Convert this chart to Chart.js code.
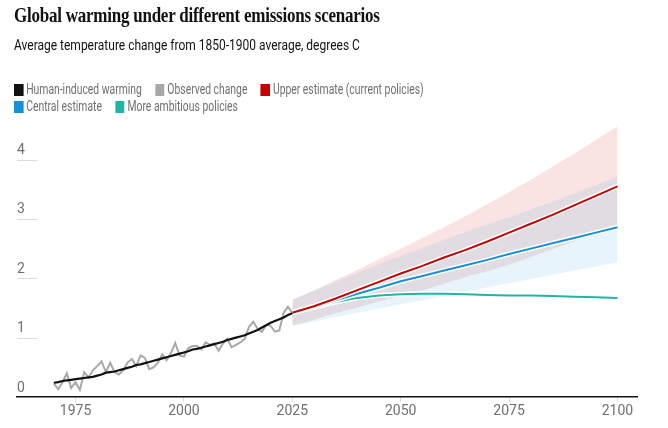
<!DOCTYPE html>
<html>
<head>
<meta charset="utf-8">
<script src="https://cdn.jsdelivr.net/npm/chart.js@4.4.1/dist/chart.umd.min.js"></script>
<style>
  html, body { margin: 0; padding: 0; background: #fff; }
  #wrap { position: relative; width: 668px; height: 428px; overflow: hidden; }
  #chart { position: absolute; left: 0; top: 0; }
  .title { position: absolute; left: 14px; top: 3px; font-family: "Liberation Serif", serif; font-weight: bold; font-size: 21px; letter-spacing: -0.3px; color: #121212; white-space: nowrap; transform: scaleX(0.81); transform-origin: left top; }
  .subtitle { position: absolute; left: 14px; top: 36px; font-family: Roboto, sans-serif; font-size: 15px; color: #121212; white-space: nowrap; transform: scaleX(0.8); transform-origin: left top; }
  #legend { position: absolute; left: 14px; top: 81px; width: 600px; display: flex; flex-wrap: wrap; font-family: Roboto, sans-serif; font-size: 14px; color: #707070; line-height: 17px; transform: scaleX(0.74); transform-origin: left top; }
  #legend .item { display: flex; align-items: center; margin-right: 18px; white-space: nowrap; }
  #legend .sw { width: 12.5px; height: 12px; margin-right: 4px; }
</style>
</head>
<body>
<div id="wrap">
  <canvas id="chart" width="668" height="428"></canvas>
  <div class="title">Global warming under different emissions scenarios</div>
  <div class="subtitle">Average temperature change from 1850-1900 average, degrees C</div>
  <div id="legend"></div>
</div>
<script>
// historical years 1970-2025
const histYears = [];
for (let y = 1970; y <= 2025; y++) histYears.push(y);

const humanInduced = [0.24, 0.25, 0.27, 0.28, 0.29, 0.30, 0.31, 0.32, 0.33, 0.34,
  0.36, 0.38, 0.41, 0.42, 0.43, 0.45, 0.47, 0.49, 0.51, 0.54,
  0.55, 0.57, 0.59, 0.61, 0.63, 0.65, 0.67, 0.69, 0.71, 0.73,
  0.75, 0.77, 0.80, 0.81, 0.83, 0.85, 0.87, 0.89, 0.91, 0.93,
  0.96, 0.98, 1.00, 1.02, 1.04, 1.07, 1.10, 1.13, 1.17, 1.21,
  1.25, 1.28, 1.31, 1.34, 1.38, 1.41];

const observed = [0.23, 0.13, 0.25, 0.40, 0.15, 0.25, 0.12, 0.42, 0.33, 0.45,
  0.52, 0.60, 0.42, 0.58, 0.42, 0.38, 0.45, 0.58, 0.64, 0.52,
  0.70, 0.66, 0.47, 0.50, 0.58, 0.72, 0.62, 0.74, 0.91, 0.70,
  0.68, 0.82, 0.86, 0.86, 0.80, 0.92, 0.88, 0.90, 0.78, 0.90,
  0.98, 0.84, 0.88, 0.92, 0.98, 1.18, 1.27, 1.15, 1.10, 1.22,
  1.20, 1.10, 1.12, 1.42, 1.52, 1.42];

// projections every 5 years 2025-2100
const projYears = [2025, 2030, 2035, 2040, 2045, 2050, 2055, 2060, 2065, 2070, 2075, 2080, 2085, 2090, 2095, 2100];
const upperEstimate = [1.42, 1.53, 1.66, 1.80, 1.94, 2.08, 2.21, 2.35, 2.48, 2.62, 2.77, 2.92, 3.07, 3.23, 3.39, 3.55];
const upperHigh = [1.64, 1.80, 1.97, 2.14, 2.32, 2.50, 2.68, 2.86, 3.05, 3.25, 3.45, 3.66, 3.88, 4.10, 4.33, 4.56];
const upperLow = [1.20, 1.30, 1.41, 1.51, 1.61, 1.70, 1.80, 1.91, 2.02, 2.12, 2.23, 2.36, 2.49, 2.62, 2.75, 2.87];
const centralEstimate = [1.42, 1.52, 1.63, 1.74, 1.84, 1.95, 2.04, 2.13, 2.22, 2.31, 2.41, 2.50, 2.59, 2.68, 2.77, 2.86];
const centralHigh = [1.64, 1.79, 1.94, 2.09, 2.24, 2.38, 2.51, 2.65, 2.78, 2.91, 3.03, 3.16, 3.29, 3.43, 3.57, 3.72];
const centralLow = [1.20, 1.27, 1.35, 1.42, 1.49, 1.56, 1.63, 1.70, 1.77, 1.85, 1.92, 1.99, 2.06, 2.13, 2.20, 2.27];
const ambitious = [1.42, 1.51, 1.60, 1.67, 1.71, 1.73, 1.74, 1.74, 1.73, 1.72, 1.71, 1.71, 1.70, 1.69, 1.68, 1.67];

const xTicks = [1975, 2000, 2025, 2050, 2075, 2100];
const yTicks = [0, 1, 2, 3, 4];

const legendItems = [
    { label: 'Human-induced warming', color: '#121212' },
    { label: 'Observed change', color: '#a8a8a8' },
    { label: 'Upper estimate (current policies)', color: '#c70000' },
    { label: 'Central estimate', color: '#1690d8' },
    { label: 'More ambitious policies', color: '#22b4a6' },
];

const pts = (xs, ys) => xs.map((x, i) => ({ x: x, y: ys[i] }));

function line(data, color, width, order) {
    return {
        data: data,
        borderColor: color,
        borderWidth: width,
        pointRadius: 0,
        fill: false,
        tension: 0,
        order: order,
    };
}

function band(data, color, target, order) {
    return {
        data: data,
        borderWidth: 0,
        pointRadius: 0,
        backgroundColor: color,
        fill: target,
        order: order,
    };
}

const datasets = [
    band(pts(projYears, upperLow), 'transparent', false, 20),              // 0
    band(pts(projYears, upperHigh), 'rgba(199,0,0,0.11)', 0, 19),          // 1
    band(pts(projYears, centralLow), 'transparent', false, 18),            // 2
    band(pts(projYears, centralHigh), 'rgba(22,144,220,0.10)', 2, 17),     // 3
    line(pts(projYears, ambitious), '#ffffff', 5, 12),
    line(pts(projYears, centralEstimate), '#ffffff', 5, 10),
    line(pts(projYears, upperEstimate), '#ffffff', 5, 8),
    line(pts(projYears, ambitious), '#22b4a6', 2, 11),
    line(pts(projYears, centralEstimate), '#1690d8', 2, 9),
    line(pts(projYears, upperEstimate), '#c70000', 2, 7),
    line(pts(histYears, observed), '#a8a8a8', 2, 6),
    line(pts(histYears, humanInduced), '#121212', 2.2, 5),
];

// short grey marks next to the y labels
const shortGrid = {
    id: 'shortGrid',
    beforeDatasetsDraw(chart) {
        const { ctx, chartArea, scales: { y } } = chart;
        ctx.save();
        ctx.strokeStyle = '#dcdcdc';
        ctx.lineWidth = 1;
        y.ticks.forEach(t => {
            if (t.value === 0) return;
            const py = Math.round(y.getPixelForValue(t.value)) + 0.5;
            ctx.beginPath();
            ctx.moveTo(chartArea.left, py);
            ctx.lineTo(chartArea.left + 20, py);
            ctx.stroke();
        });
        ctx.restore();
    }
};

const config = {
    type: 'line',
    data: { datasets: datasets },
    options: {
        responsive: false,
        animation: false,
        layout: { padding: { left: 17, right: 31, top: 124, bottom: 0 } },
        scales: {
            x: {
                type: 'linear',
                min: 1961.5,
                max: 2104.5,
                afterBuildTicks: (axis) => { axis.ticks = xTicks.map(v => ({ value: v })); },
                afterFit: (axis) => { axis.height = 31; },
                grid: { drawOnChartArea: false, drawTicks: true, tickLength: 5, color: '#dcdcdc' },
                border: { display: true, color: '#121212', width: 1.5 },
                ticks: {
                    color: '#707070',
                    font: { family: 'Roboto', size: 14 },
                    padding: 1,
                    maxRotation: 0,
                    callback: (v) => String(v),
                },
            },
            y: {
                min: 0,
                max: 4.6,
                afterBuildTicks: (axis) => { axis.ticks = yTicks.map(v => ({ value: v })); },
                afterFit: (axis) => { axis.width = 0; },
                grid: { display: false },
                border: { display: false },
                ticks: {
                    mirror: true,
                    padding: 0,
                    labelOffset: -9,
                    color: '#707070',
                    font: { family: 'Roboto', size: 14 },
                    callback: (v) => String(v),
                },
            },
        },
        plugins: {
            legend: { display: false },
            tooltip: { enabled: false },
        },
    },
    plugins: [shortGrid],
};

new Chart(document.getElementById('chart').getContext('2d'), config);

const legend = document.getElementById('legend');
legendItems.forEach(item => {
    const el = document.createElement('div');
    el.className = 'item';
    el.innerHTML = '<span class="sw" style="background:' + item.color + '"></span>' + item.label;
    legend.appendChild(el);
});
</script>
</body>
</html>
